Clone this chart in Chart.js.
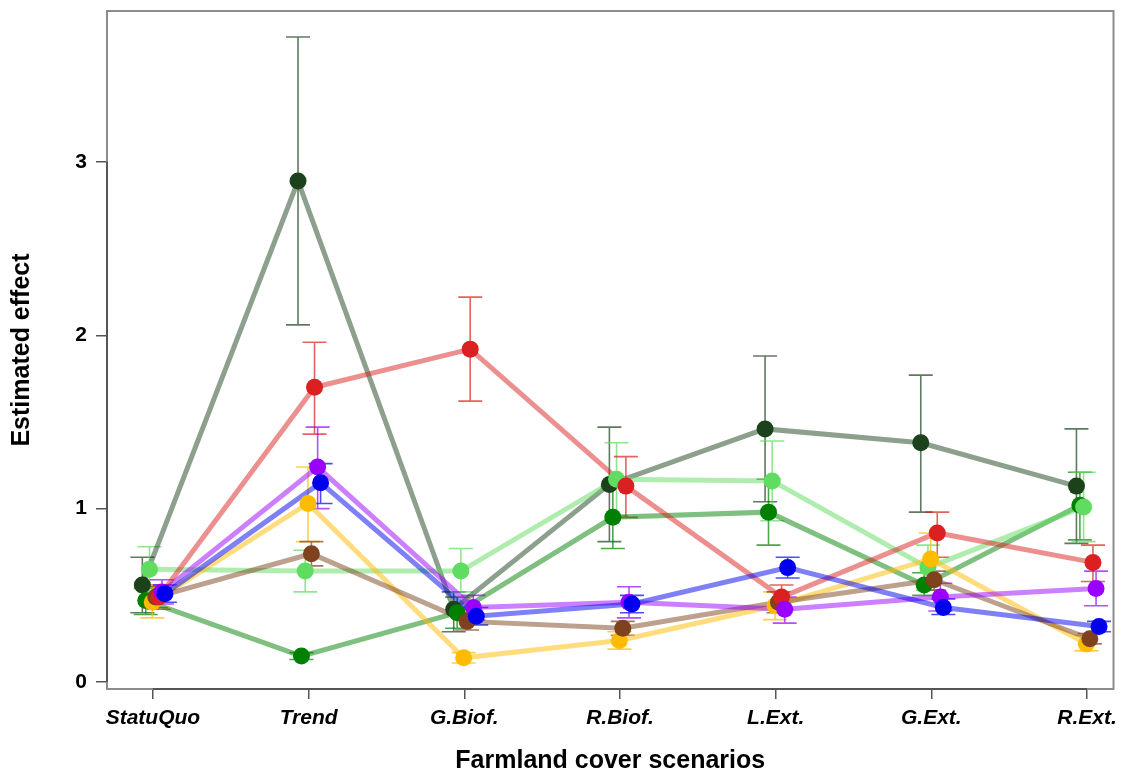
<!DOCTYPE html>
<html>
<head>
<meta charset="utf-8">
<script src="https://cdn.jsdelivr.net/npm/chart.js@4.4.1/dist/chart.umd.min.js"></script>
<style>
  html, body { margin: 0; padding: 0; background: #fff; }
</style>
</head>
<body>
<canvas id="effectChart" width="1122" height="774"></canvas>
<script>
// Scenarios on the x axis
const scenarios = ["StatuQuo", "Trend", "G.Biof.", "R.Biof.", "L.Ext.", "G.Ext.", "R.Ext."];
const yTicks = [0, 1, 2, 3];

// Estimates and interval bounds, one set per group
const darkGreenEst = [0.56, 2.89, 0.42, 1.14, 1.46, 1.38, 1.13];
const darkGreenLo  = [0.40, 2.06, 0.29, 0.81, 1.04, 0.98, 0.80];
const darkGreenHi  = [0.72, 3.72, 0.52, 1.47, 1.88, 1.77, 1.46];

const greenEst = [0.47, 0.15, 0.40, 0.95, 0.98, 0.56, 1.02];
const greenLo  = [0.39, 0.13, 0.31, 0.77, 0.79, 0.50, 0.82];
const greenHi  = [0.54, 0.17, 0.49, 1.13, 1.17, 0.63, 1.21];

const lightGreenEst = [0.65, 0.64, 0.64, 1.17, 1.16, 0.66, 1.01];
const lightGreenLo  = [0.52, 0.52, 0.52, 0.96, 0.93, 0.53, 0.81];
const lightGreenHi  = [0.78, 0.76, 0.77, 1.38, 1.39, 0.79, 1.21];

const goldEst = [0.46, 1.03, 0.14, 0.24, 0.44, 0.71, 0.22];
const goldLo  = [0.37, 0.81, 0.11, 0.19, 0.36, 0.57, 0.18];
const goldHi  = [0.55, 1.24, 0.17, 0.29, 0.52, 0.86, 0.27];

const brownEst = [0.49, 0.74, 0.35, 0.31, 0.46, 0.59, 0.25];
const brownLo  = [0.43, 0.67, 0.30, 0.27, 0.40, 0.53, 0.22];
const brownHi  = [0.55, 0.81, 0.40, 0.35, 0.52, 0.64, 0.28];

const redEst = [0.49, 1.70, 1.92, 1.13, 0.49, 0.86, 0.69];
const redLo  = [0.42, 1.43, 1.62, 0.95, 0.42, 0.72, 0.58];
const redHi  = [0.56, 1.96, 2.22, 1.30, 0.56, 0.98, 0.79];

const purpleEst = [0.52, 1.24, 0.43, 0.46, 0.42, 0.49, 0.54];
const purpleLo  = [0.45, 1.00, 0.36, 0.37, 0.34, 0.41, 0.44];
const purpleHi  = [0.59, 1.47, 0.50, 0.55, 0.49, 0.57, 0.64];

const blueEst = [0.51, 1.15, 0.38, 0.45, 0.66, 0.43, 0.32];
const blueLo  = [0.46, 1.03, 0.33, 0.40, 0.60, 0.39, 0.29];
const blueHi  = [0.56, 1.26, 0.43, 0.50, 0.72, 0.48, 0.35];

// Each group gets a small horizontal dodge so the points don't sit on top of each other
const series = [
  { est: darkGreenEst,  lo: darkGreenLo,  hi: darkGreenHi,  rgb: "27, 66, 27",   dodge: -0.068 },
  { est: greenEst,      lo: greenLo,      hi: greenHi,      rgb: "0, 128, 0",    dodge: -0.046 },
  { est: lightGreenEst, lo: lightGreenLo, hi: lightGreenHi, rgb: "96, 220, 96",  dodge: -0.022 },
  { est: goldEst,       lo: goldLo,       hi: goldHi,       rgb: "255, 187, 0",  dodge: -0.004 },
  { est: brownEst,      lo: brownLo,      hi: brownHi,      rgb: "126, 66, 30",  dodge: 0.018 },
  { est: redEst,        lo: redLo,        hi: redHi,        rgb: "218, 32, 32",  dodge: 0.038 },
  { est: purpleEst,     lo: purpleLo,     hi: purpleHi,     rgb: "154, 0, 255",  dodge: 0.058 },
  { est: blueEst,       lo: blueLo,       hi: blueHi,       rgb: "0, 0, 238",    dodge: 0.077 }
];

function toPoints(s) {
  return s.est.map((v, j) => ({ x: j + s.dodge, y: v }));
}

// Lines go underneath, points on top (higher order is drawn first)
const lineSets = series.map((s, i) => ({
  data: toPoints(s),
  borderColor: `rgba(${s.rgb}, 0.5)`,
  borderWidth: 5,
  pointRadius: 0,
  showLine: true,
  fill: false,
  order: 100 + (series.length - i)
}));
const pointSets = series.map((s, i) => ({
  data: toPoints(s),
  backgroundColor: `rgb(${s.rgb})`,
  borderWidth: 0,
  pointRadius: 8.5,
  showLine: false,
  order: series.length - i
}));

// Draws the vertical interval bars with caps
const errorBars = {
  id: "errorBars",
  beforeDatasetsDraw(chart) {
    const ctx = chart.ctx;
    const xs = chart.scales.x, ys = chart.scales.y;
    ctx.save();
    ctx.lineWidth = 1.6;
    series.forEach(s => {
      ctx.strokeStyle = `rgba(${s.rgb}, 0.7)`;
      s.est.forEach((v, j) => {
        const px = xs.getPixelForValue(j + s.dodge);
        const top = ys.getPixelForValue(s.hi[j]);
        const bot = ys.getPixelForValue(s.lo[j]);
        ctx.beginPath();
        ctx.moveTo(px, top); ctx.lineTo(px, bot);
        ctx.moveTo(px - 12, top); ctx.lineTo(px + 12, top);
        ctx.moveTo(px - 12, bot); ctx.lineTo(px + 12, bot);
        ctx.stroke();
      });
    });
    ctx.restore();
  }
};

// Box around the plot plus darker axis lines between the outer ticks
const frame = {
  id: "frame",
  afterDraw(chart) {
    const ctx = chart.ctx;
    const a = chart.chartArea;
    const xs = chart.scales.x, ys = chart.scales.y;
    ctx.save();
    ctx.strokeStyle = "#8c8c8c";
    ctx.lineWidth = 2;
    ctx.strokeRect(a.left, a.top, a.right - a.left, a.bottom - a.top);
    ctx.strokeStyle = "#555";
    ctx.beginPath();
    ctx.moveTo(a.left, ys.getPixelForValue(yTicks[0]));
    ctx.lineTo(a.left, ys.getPixelForValue(yTicks[yTicks.length - 1]));
    ctx.moveTo(xs.getPixelForValue(0), a.bottom);
    ctx.lineTo(xs.getPixelForValue(scenarios.length - 1), a.bottom);
    ctx.stroke();
    ctx.restore();
  }
};

const fontFamily = "'Liberation Sans', Arial, sans-serif";

new Chart(document.getElementById("effectChart").getContext("2d"), {
  type: "line",
  data: { datasets: lineSets.concat(pointSets) },
  options: {
    responsive: false,
    animation: false,
    layout: { padding: { top: 11, right: 4, left: 0, bottom: 0 } },
    plugins: {
      legend: { display: false },
      tooltip: { enabled: false }
    },
    scales: {
      x: {
        type: "linear",
        min: -0.295,
        max: 6.17,
        afterBuildTicks: scale => { scale.ticks = scenarios.map((_, i) => ({ value: i })); },
        afterFit: scale => {
          scale.height = 85;
          scale.paddingLeft = 0;
          scale.paddingRight = 0;
        },
        border: { display: false },
        grid: { drawOnChartArea: false, drawTicks: true, tickLength: 10, color: "#555", lineWidth: 1.5 },
        ticks: {
          autoSkip: false,
          maxRotation: 0,
          padding: 7,
          color: "#000",
          font: { family: fontFamily, size: 21, weight: "bold", style: "italic" },
          callback: value => scenarios[value]
        },
        title: {
          display: true,
          text: "Farmland cover scenarios",
          color: "#000",
          padding: { top: 0, bottom: 0 },
          font: { family: fontFamily, size: 25, weight: "bold", lineHeight: 1.04 }
        }
      },
      y: {
        min: -0.04,
        max: 3.87,
        afterBuildTicks: scale => { scale.ticks = yTicks.map(v => ({ value: v })); },
        afterFit: scale => {
          scale.width = 107;
          scale.paddingTop = 0;
          scale.paddingBottom = 0;
        },
        border: { display: false },
        grid: { drawOnChartArea: false, drawTicks: true, tickLength: 11, color: "#555", lineWidth: 1.5 },
        ticks: {
          padding: 9,
          color: "#000",
          font: { family: fontFamily, size: 21, weight: "bold" }
        },
        title: {
          display: true,
          text: "Estimated effect",
          color: "#000",
          padding: { top: 7, bottom: 0 },
          font: { family: fontFamily, size: 25, weight: "bold" }
        }
      }
    }
  },
  plugins: [errorBars, frame]
});
</script>
</body>
</html>
